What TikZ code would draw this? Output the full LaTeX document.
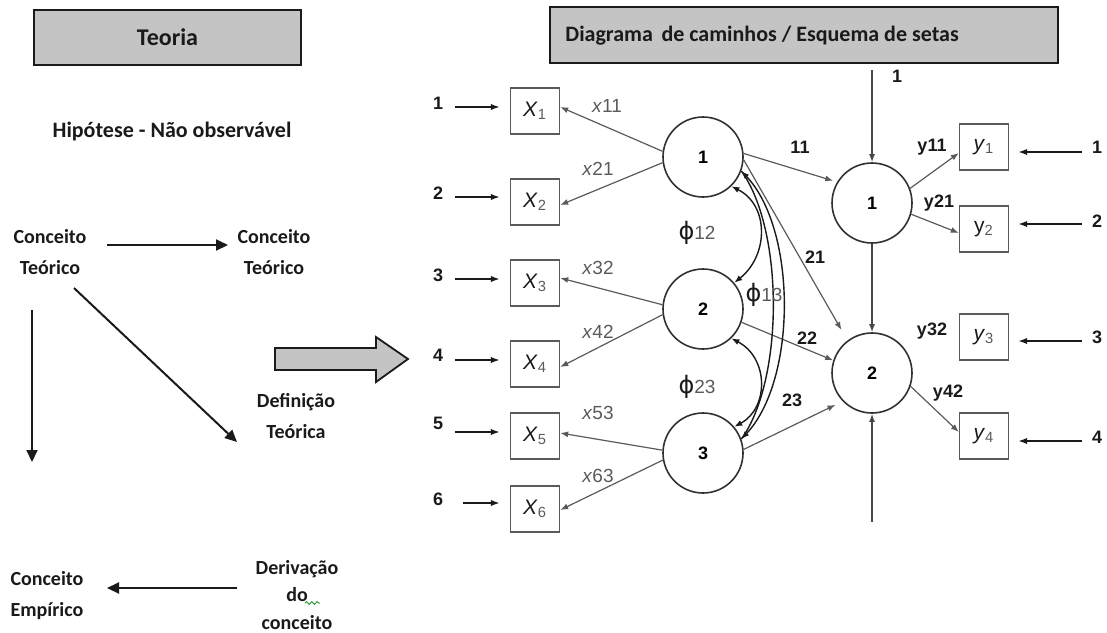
\documentclass[tikz,border=0pt]{standalone}
\usepackage{fontspec}
\setmainfont{Carlito}
\newfontfamily\arial{Liberation Sans}
\newfontfamily\dejavu{DejaVu Sans}
\usetikzlibrary{arrows.meta,calc,decorations.pathmorphing}
\definecolor{boxgray}{HTML}{C4C4C4}
\definecolor{lgray}{HTML}{5A5A5A}
\definecolor{ink}{HTML}{1A1A1A}
\definecolor{squig}{HTML}{3A9A3A}
\tikzset{
  hdrbox/.style={draw=ink, line width=1.1pt, fill=boxgray, inner sep=0pt},
  ctext/.style={font=\bfseries\fontsize{10}{15.5}\selectfont, align=center, text=ink},
  bigarr/.style={-{Triangle[length=6pt,width=5.5pt]}, line width=1pt, draw=ink},
  obs/.style={draw=lgray, line width=0.7pt, minimum width=24.5pt, minimum height=23pt, inner sep=0pt, font=\arial\fontsize{10.5}{12}\selectfont, text=ink},
  lat/.style={circle, draw=ink!90, line width=0.8pt, minimum size=40pt, inner sep=0pt, font=\arial\bfseries\fontsize{9}{11}\selectfont},
  numl/.style={font=\arial\bfseries\fontsize{9}{11}\selectfont, text=ink},
  lodl/.style={font=\arial\fontsize{9.5}{11}\selectfont, text=lgray},
  narr/.style={-{Latex[length=4.5pt,width=3.2pt]}, line width=0.8pt, draw=ink},
  larr/.style={-{Latex[length=4pt,width=3pt]}, line width=0.6pt, draw=lgray},
  sarr/.style={-{Latex[length=4pt,width=3pt]}, line width=0.7pt, draw=ink!80},
  cov/.style={{Latex[length=4pt,width=3pt]}-{Latex[length=4pt,width=3pt]}, line width=0.7pt, draw=ink},
  phil/.style={font=\arial\fontsize{9.5}{11}\selectfont, text=lgray}
}
\newcommand{\phisym}{{\dejavu\fontsize{12}{12}\selectfont\color{ink}ϕ}}
\begin{document}
\begin{tikzpicture}[x=0.5pt,y=-0.5pt]
\useasboundingbox (0,0) rectangle (1107,632);

% ---------- left part: Teoria ----------
\node[hdrbox, minimum width=133.5pt, minimum height=27.5pt] (teo) at (167.5,37.5) {};
\node[font=\bfseries\fontsize{12}{14}\selectfont, text=ink] (teot) at (teo.center) {Teoria};
\node[ctext, font=\bfseries\fontsize{11}{13}\selectfont] (hip) at (172,132) {Hipótese - Não observável};
\node[ctext] (ct1) at (50,252) {Conceito\\Teórico};
\node[ctext] (ct2) at (274,252) {Conceito\\Teórico};
\node[ctext] (def) at (296,416) {Definição\\Teórica};
\node[ctext] (emp) at (47,596) {Conceito\\Empírico};
\node[ctext, font=\bfseries\fontsize{10}{13.75}\selectfont] (der) at (297,595) {Derivação\\do\\conceito};
\coordinate (vend) at (32,462);

\draw[bigarr] ($(ct1)+(57,-7)$) -- ($(ct2)+(-46,-7)$);
\draw[bigarr] ($(ct1)+(24,36)$) -- ($(def)+(-59,26)$);
\draw[bigarr] ($(ct1)+(-18,58)$) -- (vend);
\draw[bigarr] ($(der)+(-60,-7)$) -- ($(emp)+(60,-8)$);
\draw[squig, line width=0.5pt, decorate, decoration={snake, amplitude=0.7pt, segment length=2.6pt}]
  ($(der)+(8,8)$) -- ($(der)+(23,8)$);

% big grey arrow
\draw[draw=ink, line width=0.9pt, fill=boxgray, line join=miter]
  (275,348) -- (376,348) -- (376,337) -- (408,359) -- (376,382) -- (376,370) -- (275,370) -- cycle;

% ---------- right part: path diagram ----------
\node[hdrbox, minimum width=254pt, minimum height=28pt] (dia) at (804,35) {};
\node[anchor=west, font=\bfseries\fontsize{11}{13}\selectfont, text=ink, inner sep=0pt] (diat) at (565,36) {Diagrama\, de caminhos / Esquema de setas};

% observed x
\node[obs] (x1) at (535,111) {\textit{X}\textsubscript{\color{lgray}1}};
\node[obs] (x2) at (535,202) {\textit{X}\textsubscript{\color{lgray}2}};
\node[obs] (x3) at (535,283) {\textit{X}\textsubscript{\color{lgray}3}};
\node[obs] (x4) at (535,364) {\textit{X}\textsubscript{\color{lgray}4}};
\node[obs] (x5) at (535,436) {\textit{X}\textsubscript{\color{lgray}5}};
\node[obs] (x6) at (535,509) {\textit{X}\textsubscript{\color{lgray}6}};

% error labels x
\node[numl] (e1) at (438,103) {1};
\node[numl] (e2) at (438,193) {2};
\node[numl] (e3) at (438,275) {3};
\node[numl] (e4) at (438,355) {4};
\node[numl] (e5) at (438,423) {5};
\node[numl] (e6) at (438,499) {6};
\draw[narr] ($(e1.east)+(5,4)$) -- ($(x1.west |- e1.east)+(-10,4)$);
\draw[narr] ($(e2.east)+(5,4)$) -- ($(x2.west |- e2.east)+(-10,4)$);
\draw[narr] ($(e3.east)+(5,4)$) -- ($(x3.west |- e3.east)+(-10,4)$);
\draw[narr] ($(e4.east)+(5,5)$) -- ($(x4.west |- e4.east)+(-10,5)$);
\draw[narr] ($(e5.east)+(5,9)$) -- ($(x5.west |- e5.east)+(-10,9)$);
\draw[narr] ($(e6.east)+(13,4)$) -- ($(x6.west |- e6.east)+(-10,4)$);

% latent xi
\node[lat] (k1) at (703,157) {1};
\node[lat] (k2) at (703,309) {2};
\node[lat] (k3) at (703,453) {3};
% latent eta
\node[lat] (h1) at (872,203) {1};
\node[lat] (h2) at (872,373) {2};

% observed y
\node[obs] (y1) at (984,147) {\textit{y}\textsubscript{\color{lgray}1}};
\node[obs] (y2) at (984,229) {y\textsubscript{\color{lgray}2}};
\node[obs] (y3) at (984,337) {\textit{y}\textsubscript{\color{lgray}3}};
\node[obs] (y4) at (984,436) {\textit{y}\textsubscript{\color{lgray}4}};

% error labels y
\node[numl] (r1) at (1097,147) {1};
\node[numl] (r2) at (1097,221) {2};
\node[numl] (r3) at (1097,337) {3};
\node[numl] (r4) at (1097,437) {4};
\draw[narr] ($(r1.west)+(-3,5)$) -- ($(y1.east |- r1.west)+(9,5)$);
\draw[narr] ($(r2.west)+(-3,3)$) -- ($(y2.east |- r2.west)+(9,3)$);
\draw[narr] ($(r3.west)+(-3,4)$) -- ($(y3.east |- r3.west)+(9,4)$);
\draw[narr] ($(r4.west)+(-3,4)$) -- ($(y4.east |- r4.west)+(9,4)$);

% loadings x
\draw[larr] (k1.172) -- ($(x1.east)+(0,-4)$);
\draw[larr] (k1.188) -- ($(x2.east)+(0,3)$);
\draw[larr] (k2.174) -- ($(x3.east)+(0,-5)$);
\draw[larr] (k2.188) -- ($(x4.east)+(0,3)$);
\draw[larr] (k3.176) -- ($(x5.east)+(0,-3)$);
\draw[larr] (k3.190) -- ($(x6.east)+(0,1)$);
\node[lodl] (l11) at (607,106) {\textit{x}11};
\node[lodl] (l21) at (598,169) {\textit{x}21};
\node[lodl] (l32) at (598,268) {\textit{x}32};
\node[lodl] (l42) at (598,332) {\textit{x}42};
\node[lodl] (l53) at (598,413) {\textit{x}53};
\node[lodl] (l63) at (598,476) {\textit{x}63};

% structural paths
\draw[larr, shorten >=2pt] (k1.5) -- (h1.149);
\draw[larr, shorten >=6pt] (k1.-4) -- (h2.127);
\draw[larr] (k2.-19) -- (h2.162);
\draw[larr, shorten >=4pt] (k3.5) -- (h2.224);
\node[numl] (g11) at (800,147) {11};
\node[numl] (g21) at (815,257) {21};
\node[numl] (g22) at (807,338) {22};
\node[numl] (g23) at (792,400) {23};

% eta structure
\coordinate (htop) at (872,70);
\coordinate (hbot) at (872,522);
\draw[sarr] (htop) -- (h1.north);
\draw[sarr] (h1.south) -- (h2.north);
\draw[sarr] (hbot) -- (h2.south);
\node[numl] (z1) at (897,76) {1};

% loadings y
\draw[larr] (h1.21) -- ($(y1.west)+(0,6)$);
\draw[larr] (h1.-16) -- ($(y2.west)+(0,4)$);
\draw[larr] (h2.-19) -- ($(y4.west)+(0,-4)$);
\node[numl] (m11) at (932,147) {y11};
\node[numl] (m21) at (939,203) {y21};
\node[numl] (m32) at (932,331) {y32};
\node[numl] (m42) at (948,393) {y42};

% covariances
\draw[cov] (k1.-46) .. controls (769,205) and (769,255) .. (k2.40);
\draw[cov] (k2.-46) .. controls (769,358) and (769,408) .. (k3.40);
\draw[cov] (k1.-20) .. controls (797,230) and (797,380) .. (k3.20);
\draw[line width=0.7pt, draw=ink] (k1.-20) .. controls (784,230) and (784,380) .. (k3.20);
\node[phil] (p12) at (697,233) {\phisym12};
\node[phil] (p13) at (764,295) {\phisym13};
\node[phil] (p23) at (697,387) {\phisym23};
\end{tikzpicture}
\end{document}
